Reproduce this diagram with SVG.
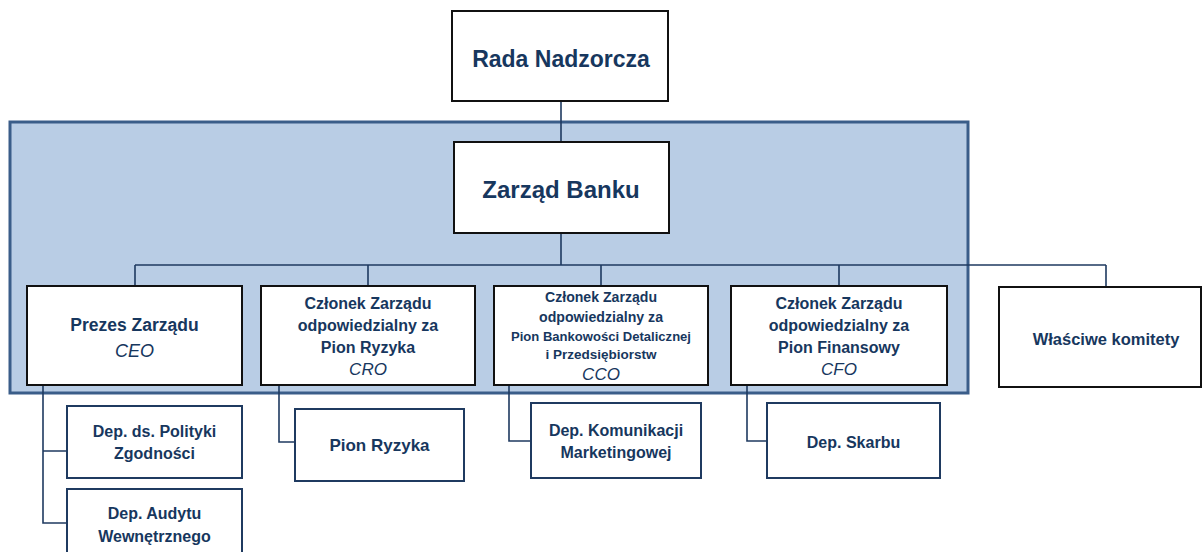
<svg xmlns="http://www.w3.org/2000/svg" width="1203" height="552" viewBox="0 0 1203 552">
<style>
.panel{fill:#b9cde5;stroke:#3a5d89;stroke-width:3}
.box{fill:#fff;stroke:#111;stroke-width:2}
.sub{fill:#fff;stroke:#1f3a60;stroke-width:2}
.con{fill:none;stroke:#1f3a60;stroke-width:1.6}
text{font-family:"Liberation Sans",Arial,sans-serif;fill:#17375e;text-anchor:middle;font-weight:bold}
.it{font-style:italic;font-weight:normal}
</style>
<rect x="0" y="0" width="1203" height="552" fill="#fff"/>
<rect class="panel" x="10" y="122" width="958" height="271"/>
<g id="connectors">
<path class="con" d="M561 101V142M561 233V265M135 265H1106M135 265V286M368 265V286M601 265V286M839 265V286M1106 265V287"/>
<path class="con" d="M43 385V523H67M43 451H67"/>
<path class="con" d="M279 385V442H295"/>
<path class="con" d="M509 385V441H531"/>
<path class="con" d="M747 385V441H767"/>
</g>
<g id="rada">
<rect class="box" x="452" y="11" width="216" height="90"/>
<text x="561" y="67" font-size="23">Rada Nadzorcza</text>
</g>
<g id="zarzad">
<rect class="box" x="454" y="142" width="215" height="91"/>
<text x="561" y="198" font-size="24">Zarząd Banku</text>
</g>
<g id="ceo">
<rect class="box" x="27" y="286" width="215" height="99"/>
<text x="134.5" y="331" font-size="17.5">Prezes Zarządu</text>
<text class="it" x="134.5" y="357" font-size="18">CEO</text>
</g>
<g id="cro">
<rect class="box" x="261" y="286" width="214" height="99"/>
<text x="368" y="309" font-size="16">Członek Zarządu</text>
<text x="368" y="331" font-size="16">odpowiedzialny za</text>
<text x="368" y="353" font-size="16">Pion Ryzyka</text>
<text class="it" x="368" y="375" font-size="17">CRO</text>
</g>
<g id="cco">
<rect class="box" x="494" y="286" width="214" height="99"/>
<text x="601" y="302" font-size="14" textLength="112" lengthAdjust="spacingAndGlyphs">Członek Zarządu</text>
<text x="601" y="322" font-size="14" textLength="124" lengthAdjust="spacingAndGlyphs">odpowiedzialny za</text>
<text x="601" y="341" font-size="12.5" textLength="180" lengthAdjust="spacingAndGlyphs">Pion Bankowości Detalicznej</text>
<text x="601" y="359" font-size="12.5" textLength="111" lengthAdjust="spacingAndGlyphs">i Przedsiębiorstw</text>
<text class="it" x="601" y="380" font-size="17">CCO</text>
</g>
<g id="cfo">
<rect class="box" x="731" y="286" width="216" height="99"/>
<text x="839" y="309" font-size="16">Członek Zarządu</text>
<text x="839" y="331" font-size="16">odpowiedzialny za</text>
<text x="839" y="353" font-size="16">Pion Finansowy</text>
<text class="it" x="839" y="375" font-size="17">CFO</text>
</g>
<g id="komitety">
<rect class="box" x="999" y="287" width="202" height="100"/>
<text x="1106" y="345" font-size="16.5">Właściwe komitety</text>
</g>
<g id="polityki">
<rect class="sub" x="67" y="406" width="175" height="72"/>
<text x="154.5" y="437" font-size="16">Dep. ds. Polityki</text>
<text x="154.5" y="459" font-size="16">Zgodności</text>
</g>
<g id="audyt">
<rect class="sub" x="67" y="489" width="175" height="70"/>
<text x="154.5" y="519" font-size="16">Dep. Audytu</text>
<text x="154.5" y="542" font-size="16">Wewnętrznego</text>
</g>
<g id="pionryzyka">
<rect class="sub" x="295" y="409" width="169" height="72"/>
<text x="379.5" y="451" font-size="17">Pion Ryzyka</text>
</g>
<g id="komunikacji">
<rect class="sub" x="531" y="403" width="170" height="75"/>
<text x="616" y="436" font-size="16">Dep. Komunikacji</text>
<text x="616" y="458" font-size="16">Marketingowej</text>
</g>
<g id="skarbu">
<rect class="sub" x="767" y="403" width="173" height="75"/>
<text x="853.5" y="448" font-size="16">Dep. Skarbu</text>
</g>
</svg>
